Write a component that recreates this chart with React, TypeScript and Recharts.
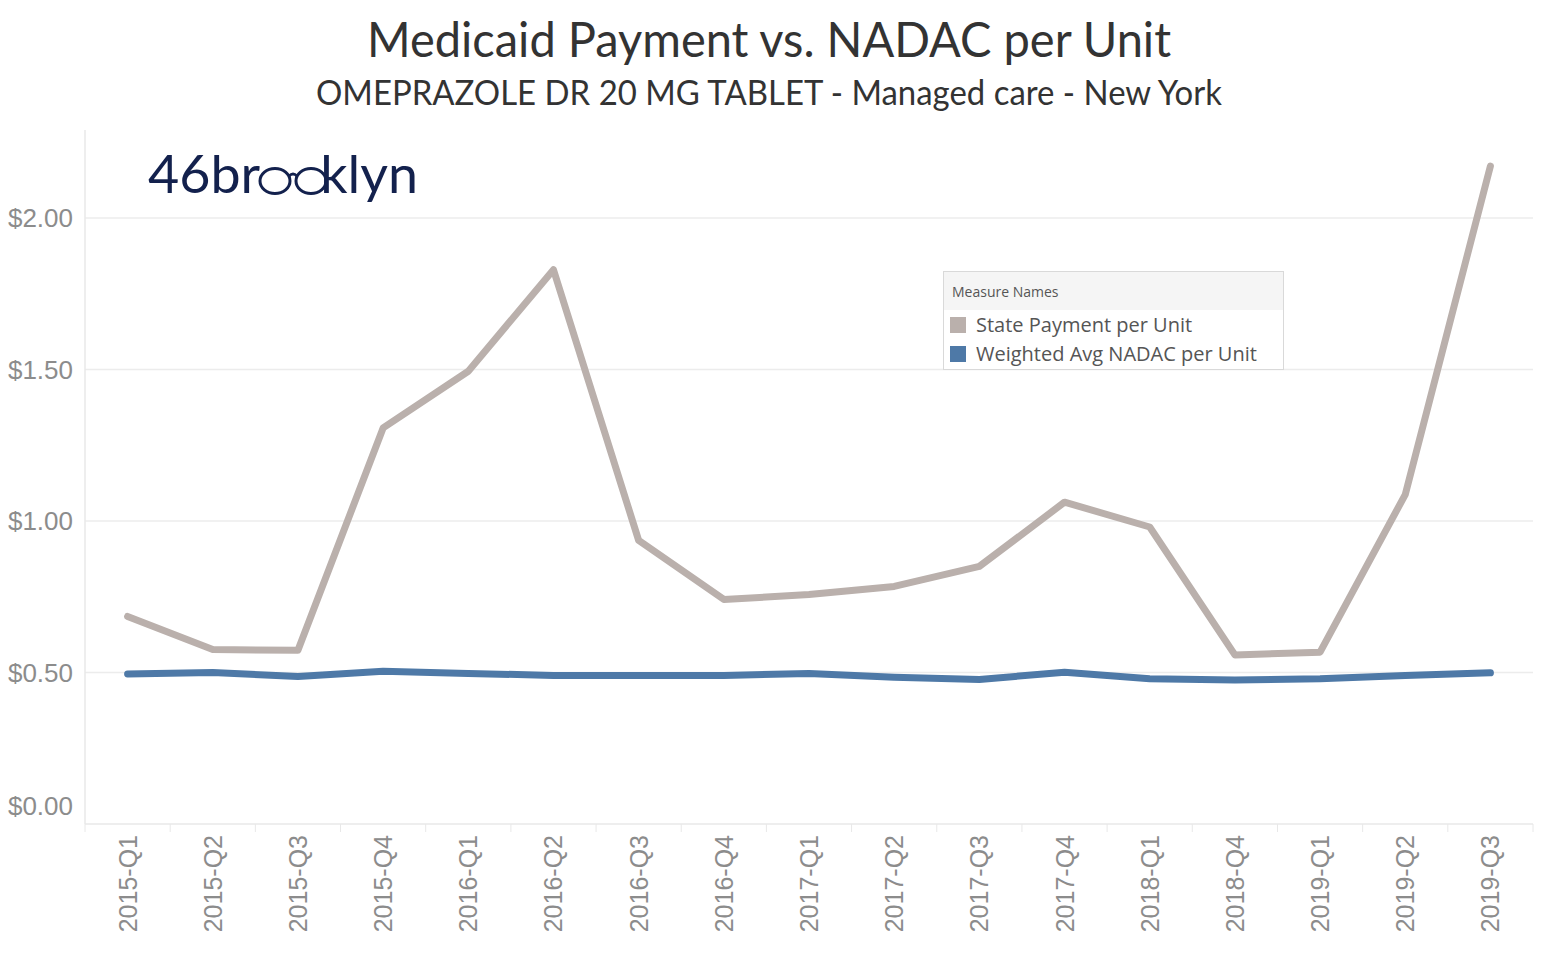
import { CartesianGrid, Line, LineChart, XAxis, YAxis } from "recharts"

const quarters = [
  "2015-Q1", "2015-Q2", "2015-Q3", "2015-Q4",
  "2016-Q1", "2016-Q2", "2016-Q3", "2016-Q4",
  "2017-Q1", "2017-Q2", "2017-Q3", "2017-Q4",
  "2018-Q1", "2018-Q4",
  "2019-Q1", "2019-Q2", "2019-Q3",
]

const statePayment = [
  0.685, 0.576, 0.573, 1.307,
  1.494, 1.829, 0.936, 0.741,
  0.757, 0.784, 0.85, 1.062,
  0.98, 0.558,
  0.567, 1.087, 2.171,
]

const nadacPerUnit = [
  0.495, 0.5, 0.487, 0.504,
  0.497, 0.49, 0.49, 0.49,
  0.497, 0.484, 0.477, 0.501,
  0.479, 0.475,
  0.479, 0.49, 0.499,
]

const yTicks = [0, 0.5, 1, 1.5, 2]

const STATE_COLOR = "#bab0ac"
const NADAC_COLOR = "#4e79a7"
const AXIS_GRAY = "#e8e8e8"
const LABEL_GRAY = "#8c8c8c"

// plot area 85..1533 wide, 17 bands
const BAND = (1533 - 85) / quarters.length

const chartData = quarters.map((q, i) => ({
  quarter: q,
  state: statePayment[i],
  nadac: nadacPerUnit[i],
}))

function XTick(props: any) {
  const { x, y, payload, index } = props
  const half = BAND / 2
  return (
    <g>
      <line x1={x - half} x2={x - half} y1={y} y2={y + 8} stroke={AXIS_GRAY} />
      {index === quarters.length - 1 && (
        <line x1={x + half} x2={x + half} y1={y} y2={y + 8} stroke={AXIS_GRAY} />
      )}
      <text
        x={x}
        y={y + 11}
        transform={`rotate(-90 ${x} ${y + 11})`}
        textAnchor="end"
        dy="0.36em"
        fill={LABEL_GRAY}
        fontSize={25}
        fontFamily="Liberation Sans, Arial, sans-serif"
      >
        {payload.value}
      </text>
    </g>
  )
}

function YTick(props: any) {
  const { x, y, payload } = props
  const ty = payload.value === 0 ? y - 18 : y
  return (
    <text
      x={x}
      y={ty}
      dy="0.36em"
      textAnchor="end"
      fill={LABEL_GRAY}
      fontSize={26}
      fontFamily="Liberation Sans, Arial, sans-serif"
    >
      {`$${payload.value.toFixed(2)}`}
    </text>
  )
}

function Legend() {
  const item = (color: string, label: string) => (
    <div style={{ display: "flex", alignItems: "center", height: 29 }}>
      <div style={{ width: 16, height: 16, background: color, marginLeft: 6, marginRight: 10 }} />
      <span style={{ fontSize: 20, color: "#555" }}>{label}</span>
    </div>
  )
  return (
    <div
      style={{
        position: "absolute",
        left: 943,
        top: 271,
        width: 341,
        height: 99,
        border: "1px solid #d9d9d9",
        background: "#fff",
        fontFamily: "Open Sans, sans-serif",
        boxSizing: "border-box",
      }}
    >
      <div style={{ height: 38, background: "#f5f5f5", fontSize: 14, color: "#555", paddingLeft: 8, lineHeight: "40px" }}>
        Measure Names
      </div>
      {item(STATE_COLOR, "State Payment per Unit")}
      {item(NADAC_COLOR, "Weighted Avg NADAC per Unit")}
    </div>
  )
}

function Header() {
  return (
    <svg width={1544} height={955} style={{ position: "absolute", left: 0, top: 0, pointerEvents: "none" }}>
      <text
        x={367}
        y={57}
        textLength={804}
        lengthAdjust="spacingAndGlyphs"
        fontSize={48}
        fill="#333"
        fontFamily="Lato, sans-serif"
      >
        Medicaid Payment vs. NADAC per Unit
      </text>
      <text
        x={316}
        y={105}
        textLength={906}
        lengthAdjust="spacingAndGlyphs"
        fontSize={34}
        fill="#333"
        fontFamily="Lato, sans-serif"
      >
        OMEPRAZOLE DR 20 MG TABLET - Managed care - New York
      </text>
      <text
        x={148}
        y={193}
        textLength={270}
        lengthAdjust="spacingAndGlyphs"
        fontSize={52}
        fontWeight={400}
        fill="#13214d"
        fontFamily="Lato, sans-serif"
      >
        46br<tspan fillOpacity={0}>oo</tspan>klyn
      </text>
      <ellipse cx={275} cy={181} rx={15} ry={12.5} fill="none" stroke="#13214d" strokeWidth={3} />
      <ellipse cx={311} cy={181} rx={15} ry={12.5} fill="none" stroke="#13214d" strokeWidth={3} />
      <path d="M 289 176 Q 293 172 297 176" fill="none" stroke="#13214d" strokeWidth={3} />
    </svg>
  )
}

export default function App() {
  return (
    <div style={{ position: "absolute", left: 0, top: 0, width: 1544, height: 955, background: "#fff" }}>
      <LineChart
        width={1544}
        height={955}
        data={chartData}
        margin={{ top: 130, right: 11, bottom: 11, left: 0 }}
      >
        <CartesianGrid
          vertical={false}
          horizontalValues={[0.5, 1, 1.5, 2]}
          stroke="#ececec"
          strokeWidth={1.5}
        />
        <XAxis
          dataKey="quarter"
          interval={0}
          padding={{ left: BAND / 2, right: BAND / 2 }}
          height={120}
          axisLine={{ stroke: AXIS_GRAY, strokeWidth: 1.5 }}
          tickLine={false}
          tickSize={0}
          tickMargin={0}
          tick={<XTick />}
        />
        <YAxis
          width={85}
          domain={[0, 2.29]}
          ticks={yTicks}
          axisLine={{ stroke: AXIS_GRAY, strokeWidth: 1.5 }}
          tickLine={false}
          tickSize={0}
          tickMargin={12}
          tick={<YTick />}
        />
        <Line
          type="linear"
          dataKey="state"
          stroke={STATE_COLOR}
          strokeWidth={7}
          strokeLinecap="round"
          strokeLinejoin="round"
          dot={false}
          activeDot={false}
          isAnimationActive={false}
        />
        <Line
          type="linear"
          dataKey="nadac"
          stroke={NADAC_COLOR}
          strokeWidth={7}
          strokeLinecap="round"
          strokeLinejoin="round"
          dot={false}
          activeDot={false}
          isAnimationActive={false}
        />
      </LineChart>
      <Header />
      <Legend />
    </div>
  )
}
